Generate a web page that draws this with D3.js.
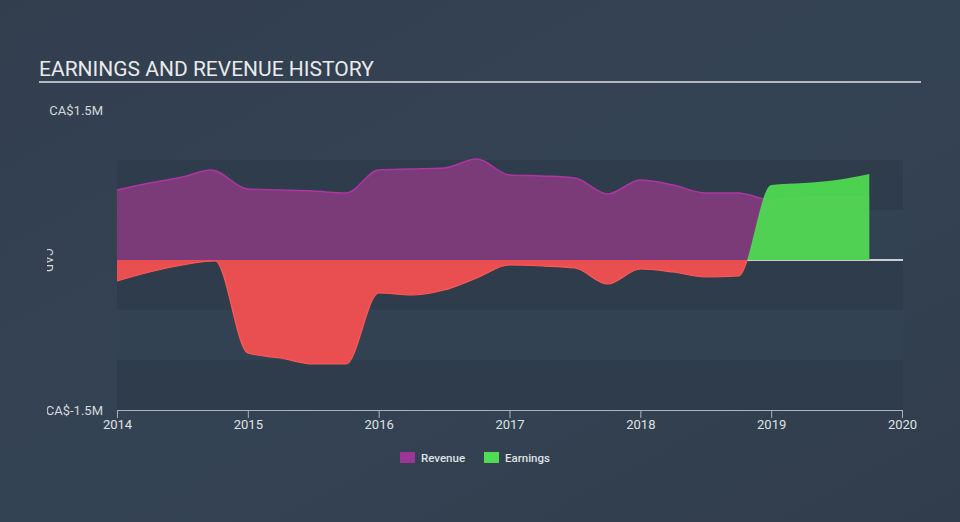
<!DOCTYPE html>
<html><head><meta charset="utf-8">
<script src="https://cdn.jsdelivr.net/npm/d3@7"></script>
<style>html,body{margin:0;padding:0;background:#333f4f;}svg{display:block;font-family:Roboto,"Noto Sans",sans-serif;}</style>
</head><body>
<script>
// ---- data (CA$ millions) ----
const revenueDates = [2014.0, 2014.25, 2014.5, 2014.72, 2015.0, 2015.25, 2015.5, 2015.75, 2016.0, 2016.25, 2016.5, 2016.75, 2017.0, 2017.25, 2017.5, 2017.75, 2018.0, 2018.25, 2018.5, 2018.75, 2019.0, 2019.25, 2019.5, 2019.75];
const revenueValues = [0.70, 0.77, 0.83, 0.90, 0.71, 0.70, 0.69, 0.67, 0.90, 0.91, 0.92, 1.01, 0.85, 0.84, 0.82, 0.66, 0.80, 0.75, 0.67, 0.67, 0.60, 0.62, 0.63, 0.62];
const earningsDates = [2014.0, 2014.25, 2014.5, 2014.75, 2015.0, 2015.25, 2015.5, 2015.75, 2016.0, 2016.25, 2016.5, 2016.75, 2017.0, 2017.25, 2017.5, 2017.75, 2018.0, 2018.25, 2018.5, 2018.75, 2019.0, 2019.25, 2019.5, 2019.75];
const earningsValues = [-0.21, -0.12, -0.05, -0.01, -0.93, -0.98, -1.04, -1.04, -0.33, -0.35, -0.30, -0.18, -0.05, -0.06, -0.08, -0.24, -0.09, -0.12, -0.17, -0.16, 0.75, 0.77, 0.80, 0.86];
const xTickYears = [2014, 2015, 2016, 2017, 2018, 2019, 2020];
const yTickValues = [1.5, -1.5];
const yTickLabels = ["CA$1.5M", "CA$-1.5M"];
const bandEdges = [1.0, 0.5, 0, -0.5, -1.0, -1.5];
const legendItems = [{name: "Revenue", color: "#9b3596"}, {name: "Earnings", color: "#4fdc52"}];

const W = 960, H = 522;
const svg = d3.select("body").append("svg").attr("width", W).attr("height", H);
const defs = svg.append("defs");
const grad = defs.append("linearGradient").attr("id", "bg").attr("x1", 0).attr("y1", 0).attr("x2", 1).attr("y2", 1);
grad.append("stop").attr("offset", 0).attr("stop-color", "#323e4e");
grad.append("stop").attr("offset", 0.5).attr("stop-color", "#344354");
grad.append("stop").attr("offset", 1).attr("stop-color", "#313d4c");
svg.append("rect").attr("width", W).attr("height", H).attr("fill", "url(#bg)");

const x = d3.scaleLinear().domain([2014, 2020]).range([117, 902]);
const y = d3.scaleLinear().domain([-1.5, 1.5]).range([410, 110]);

// title
svg.append("text").attr("x", 39).attr("y", 76).attr("fill", "#e8eaec").attr("font-size", 21).text("EARNINGS AND REVENUE HISTORY");
svg.append("line").attr("x1", 39).attr("x2", 921).attr("y1", 82).attr("y2", 82).attr("stroke", "#b4b9bf").attr("stroke-width", 2);

// bands
const bands = d3.pairs(bandEdges);
svg.append("g").selectAll("rect").data(bands).join("rect")
  .attr("x", x(2014)).attr("width", x(2020) - x(2014) + 1)
  .attr("y", d => y(d[0])).attr("height", d => y(d[1]) - y(d[0]))
  .attr("fill", (d, i) => i % 2 === 0 ? "#2e3c4c" : "#334253");

// zero line
svg.append("line").attr("x1", x(2014)).attr("x2", x(2020) + 1).attr("y1", y(0)).attr("y2", y(0)).attr("stroke", "#ffffff").attr("stroke-width", 1.5);

const curve = d3.curveMonotoneX;
const rev = revenueDates.map((d, i) => [d, revenueValues[i]]);
const ern = earningsDates.map((d, i) => [d, earningsValues[i]]);

// revenue
svg.append("path").datum(rev)
  .attr("d", d3.area().x(d => x(d[0])).y0(y(0)).y1(d => y(d[1])).curve(curve))
  .attr("fill", "#7b3a78");
svg.append("path").datum(rev)
  .attr("d", d3.line().x(d => x(d[0])).y(d => y(d[1])).curve(curve))
  .attr("fill", "none").attr("stroke", "#ae36a3").attr("stroke-width", 1.5);

// earnings split at zero
defs.append("clipPath").attr("id", "above").append("rect").attr("x", 0).attr("y", 0).attr("width", W).attr("height", y(0));
defs.append("clipPath").attr("id", "below").append("rect").attr("x", 0).attr("y", y(0)).attr("width", W).attr("height", H - y(0));
const ernArea = d3.area().x(d => x(d[0])).y0(y(0)).y1(d => y(d[1])).curve(curve);
const ernLine = d3.line().x(d => x(d[0])).y(d => y(d[1])).curve(curve);
svg.append("path").datum(ern).attr("d", ernArea).attr("fill", "#e94f51").attr("clip-path", "url(#below)");
svg.append("path").datum(ern).attr("d", ernLine).attr("fill", "none").attr("stroke", "#ff5a55").attr("stroke-width", 1.2).attr("clip-path", "url(#below)");
svg.append("path").datum(ern).attr("d", ernArea).attr("fill", "#4fd951").attr("fill-opacity", 0.95).attr("clip-path", "url(#above)");

// x axis
const xAxis = svg.append("g").attr("transform", `translate(0,${y(-1.5)})`)
  .call(d3.axisBottom(x).tickValues(xTickYears).tickFormat(d3.format("d")).tickSize(8).tickSizeOuter(0));
xAxis.select(".domain").attr("stroke", "#aab3bd").attr("stroke-width", 1.2);
xAxis.selectAll(".tick line").attr("stroke", "#aab3bd");
xAxis.selectAll(".tick text").attr("fill", "#dfe2e5").attr("font-size", 13).attr("dy", "0.6em").attr("font-family", "Roboto, sans-serif");

// y labels (right aligned, clipped at left)
defs.append("clipPath").attr("id", "ylab").append("rect").attr("x", 47).attr("y", 0).attr("width", 70).attr("height", H);
const yl = svg.append("g").attr("clip-path", "url(#ylab)");
yl.selectAll("text.yt").data(yTickValues).join("text").attr("class", "yt")
  .attr("x", 103).attr("y", d => y(d)).attr("dy", "0.35em").attr("text-anchor", "end")
  .attr("fill", "#d4d8dc").attr("font-size", 13).text((d, i) => yTickLabels[i]);
yl.append("text").attr("transform", `translate(44,${y(0)}) rotate(90)`).attr("text-anchor", "middle")
  .attr("fill", "#d4d8dc").attr("font-size", 12).text("CAD");

// legend
const lg = svg.append("g").selectAll("g").data(legendItems).join("g")
  .attr("transform", (d, i) => `translate(${400 + i * 84},452)`);
lg.append("rect").attr("width", 15).attr("height", 11).attr("fill", d => d.color);
lg.append("text").attr("x", 21).attr("y", 6).attr("dy", "0.35em").attr("fill", "#dfe2e5").attr("font-size", 11.5).attr("font-weight", 500).text(d => d.name);
</script>
</body></html>
